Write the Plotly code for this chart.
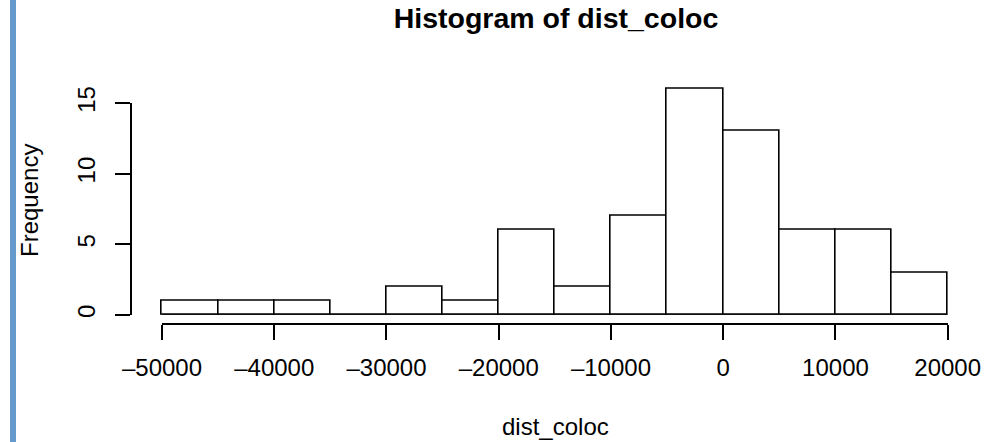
import plotly.graph_objects as go

# ---- data ----
breaks = [-50000, -45000, -40000, -35000, -30000, -25000, -20000,
          -15000, -10000, -5000, 0, 5000, 10000, 15000, 20000]
counts = [1, 1, 1, 0, 2, 1, 6, 2, 7, 16, 13, 6, 6, 3]
x_ticks = [-50000, -40000, -30000, -20000, -10000, 0, 10000, 20000]
x_ticktext = ["\u201350000", "\u201340000", "\u201330000", "\u201320000",
              "\u201310000", "0", "10000", "20000"]
y_ticks = [0, 5, 10, 15]
title_text = "Histogram of dist_coloc"
xlab = "dist_coloc"
ylab = "Frequency"

# ---- layout helpers (pixels -> paper) ----
W, H = 1004, 442
def fx(p):
    return p / W
def fy(p):
    return 1 - p / H

FONT = "Liberation Sans, Arial, Helvetica, sans-serif"

centers = [(a + b) / 2 for a, b in zip(breaks[:-1], breaks[1:])]
widths = [b - a for a, b in zip(breaks[:-1], breaks[1:])]

xmin, xmax = breaks[0], breaks[-1]
xpad = 0.04 * (xmax - xmin)
ymax = max(counts)
ypad = 0.04 * ymax

# plot region pixels
left_px, right_px = 130.6, 979.1
top_px, bottom_px = 79.8, 324.0
# axis-line spans
x0_px, x1_px = 162.0, 947.7
y15_px, y0_px = 103.0, 315.0

fig = go.Figure()

fig.add_trace(go.Bar(
    x=centers, y=counts, width=widths,
    marker=dict(color="white", line=dict(color="black", width=1.6)),
    xaxis="x", yaxis="y", showlegend=False, hoverinfo="skip",
))

# baseline of bars along breaks (drawn in the axes-span subplot)
fig.add_trace(go.Scatter(
    x=[breaks[0], breaks[-1]], y=[0, 0], mode="lines",
    line=dict(color="black", width=1.6),
    xaxis="x2", yaxis="y2", showlegend=False, hoverinfo="skip",
))

fig.update_layout(
    width=W, height=H, autosize=False,
    margin=dict(l=0, r=0, t=0, b=0, autoexpand=False),
    paper_bgcolor="white", plot_bgcolor="rgba(0,0,0,0)",
    font=dict(family=FONT, size=24, color="black"),
    bargap=0,
    xaxis=dict(domain=[fx(left_px), fx(right_px)], range=[xmin - xpad, xmax + xpad],
               visible=False, anchor="y", fixedrange=True, automargin=False),
    yaxis=dict(domain=[fy(bottom_px), fy(top_px)], range=[-ypad, ymax + ypad],
               visible=False, anchor="x", fixedrange=True, automargin=False),
    xaxis2=dict(domain=[fx(x0_px), fx(x1_px)], range=[xmin, xmax],
                anchor="free", position=fy(bottom_px), automargin=False,
                showline=True, linecolor="black", linewidth=1.6,
                ticks="outside", ticklen=15, tickwidth=1.6, tickcolor="black",
                tickvals=x_ticks, ticktext=x_ticktext, ticklabelstandoff=7,
                showgrid=False, zeroline=False,
                tickfont=dict(family=FONT, size=24, color="black")),
    yaxis2=dict(domain=[fy(y0_px), fy(y15_px)], range=[0, 15],
                anchor="free", position=fx(left_px), automargin=False,
                showline=True, linecolor="black", linewidth=1.6,
                ticks="outside", ticklen=15, tickwidth=1.6, tickcolor="black",
                tickvals=y_ticks, ticktext=[str(v) for v in y_ticks],
                tickangle=-90, ticklabelstandoff=10,
                showgrid=False, zeroline=False,
                tickfont=dict(family=FONT, size=24, color="black")),
    title=dict(text="<b>" + title_text + "</b>", x=fx(556), xanchor="center",
               y=fy(18), yanchor="middle", xref="paper", yref="paper",
               font=dict(family=FONT, size=28.5, color="black"),
               automargin=False),
    shapes=[dict(type="rect", xref="paper", yref="paper",
                 x0=fx(10), x1=fx(16), y0=0, y1=1,
                 fillcolor="#6699cc", line=dict(width=0), layer="above")],
    annotations=[
        dict(text=xlab, xref="paper", yref="paper", x=fx(555), y=fy(426),
             xanchor="center", yanchor="middle", showarrow=False,
             font=dict(family=FONT, size=24, color="black")),
        dict(text=ylab, xref="paper", yref="paper", x=fx(30), y=fy(201),
             xanchor="center", yanchor="middle", showarrow=False, textangle=-90,
             font=dict(family=FONT, size=24, color="black")),
    ],
)

fig.write_html("out.html")
